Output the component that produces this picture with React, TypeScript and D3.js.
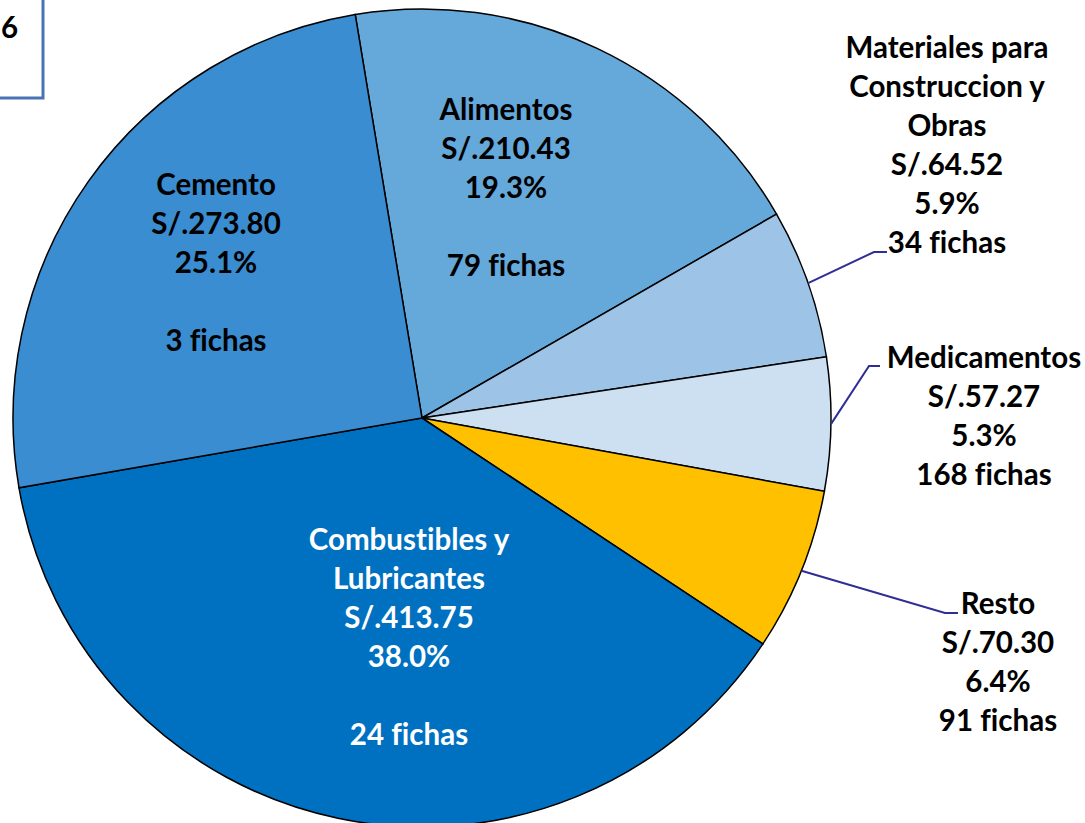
import React from "react";
import * as d3 from "d3";

// Data (clockwise order starting at the top)
const categories = [
  "Alimentos",
  "Materiales para Construccion y Obras",
  "Medicamentos",
  "Resto",
  "Combustibles y Lubricantes",
  "Cemento",
];
const amounts = [210.43, 64.52, 57.27, 70.3, 413.75, 273.8];
const percents = ["19.3%", "5.9%", "5.3%", "6.4%", "38.0%", "25.1%"];
const fichas = [79, 34, 168, 91, 24, 3];
const nameLines = [
  ["Alimentos"],
  ["Materiales para", "Construccion y", "Obras"],
  ["Medicamentos"],
  ["Resto"],
  ["Combustibles y", "Lubricantes"],
  ["Cemento"],
];

// Styles / layout
const colors = ["#65A8DA", "#9DC3E6", "#CCE0F2", "#FFC000", "#0070C0", "#3A8DD0"];
const textColors = ["#000", "#000", "#000", "#000", "#fff", "#000"];
// label anchor (center x, first line center y), blank line before fichas, leader elbow
const labelLayout = [
  { x: 506, y: 110, blank: true, leader: null },
  { x: 947, y: 48, blank: false, leader: [[874, 252], [887, 252]] },
  { x: 984, y: 358, blank: false, leader: [[869, 366], [880, 366]] },
  { x: 998, y: 604, blank: false, leader: [[945, 613], [958, 613]] },
  { x: 409, y: 540, blank: true, leader: null },
  { x: 216, y: 185, blank: true, leader: null },
];

const W = 1085;
const H = 823;
const CX = 422;
const CY = 418;
const R = 409;
const LINE = 39;
const START = (-9.4 * Math.PI) / 180;

export default function App() {
  const pie = d3
    .pie<number>()
    .sort(null)
    .value((d) => d)
    .startAngle(START)
    .endAngle(START + 2 * Math.PI);
  const arcs = pie(amounts);
  const arc = d3.arc<d3.PieArcDatum<number>>().innerRadius(0).outerRadius(R);

  return (
    <svg
      width={W}
      height={H}
      style={{
        position: "absolute",
        left: 0,
        top: 0,
        background: "#fff",
        fontVariantLigatures: "none",
      }}
      fontFamily="Lato, 'Open Sans', sans-serif"
      fontWeight="bold"
    >
      <g transform={`translate(${CX},${CY})`}>
        {arcs.map((a, i) => (
          <path key={i} d={arc(a) || ""} fill={colors[i]} stroke="#000" strokeWidth={1.5} />
        ))}
      </g>
      {/* leader lines */}
      {arcs.map((a, i) => {
        const L = labelLayout[i];
        if (!L.leader) return null;
        const mid = (a.startAngle + a.endAngle) / 2;
        const sx = CX + R * Math.sin(mid);
        const sy = CY - R * Math.cos(mid);
        const pts = [[sx, sy], ...L.leader];
        return (
          <polyline
            key={"l" + i}
            points={pts.map((p) => p.join(",")).join(" ")}
            fill="none"
            stroke="#2E2E96"
            strokeWidth={2}
          />
        );
      })}
      {/* labels */}
      {categories.map((c, i) => {
        const L = labelLayout[i];
        const lines = [
          ...nameLines[i],
          "S/." + amounts[i].toFixed(2),
          percents[i],
          ...(L.blank ? [""] : []),
          fichas[i] + " fichas",
        ];
        return (
          <text
            key={"t" + i}
            textAnchor="middle"
            fontSize={29.5}
            fill={textColors[i]}
          >
            {lines.map((ln, j) => (
              <tspan key={j} x={L.x} y={L.y + j * LINE} dy="0.35em">
                {ln}
              </tspan>
            ))}
          </text>
        );
      })}
      {/* cut-off title box */}
      <rect x={-20} y={-20} width={63} height={118} fill="#fff" stroke="#4A73B5" strokeWidth={3} />
      <text x={1} y={28} dy="0.35em" textAnchor="start" fontSize={29.5} fill="#000">
        6
      </text>
    </svg>
  );
}
